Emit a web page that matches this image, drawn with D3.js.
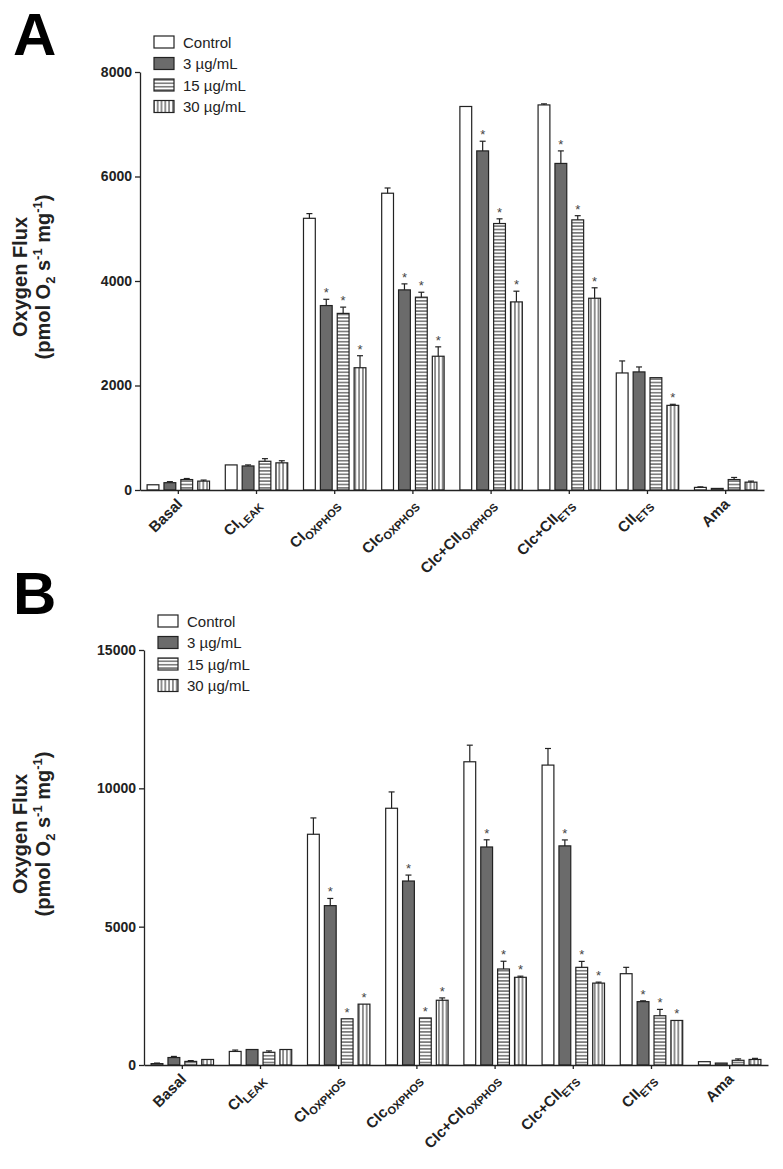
<!DOCTYPE html>
<html lang="en">
<head>
<meta charset="UTF-8">
<title>Oxygen Flux</title>
<style>
    body { margin: 0; background: #fff; }
    svg { display: block; font-family: "Liberation Sans", Arial, sans-serif; }
</style>
<script src="https://d3js.org/d3.v7.min.js"></script>
</head>
<body>
<svg id="chart" width="783" height="1169"></svg>
<script>
    // category labels: main text + subscript part
    const catMain = ["Basal", "CI", "CI", "CIc", "CIc+CII", "CIc+CII", "CII", "Ama"];
    const catSub = ["", "LEAK", "OXPHOS", "OXPHOS", "OXPHOS", "ETS", "ETS", ""];
    const series = ["Control", "3 \u00b5g/mL", "15 \u00b5g/mL", "30 \u00b5g/mL"];

    // Panel A - one row per series, one value per category
    const meansA = [
        [100, 480, 5200, 5680, 7340, 7370, 2240, 50],
        [140, 460, 3530, 3830, 6490, 6250, 2260, 30],
        [200, 550, 3380, 3690, 5100, 5170, 2150, 200],
        [170, 520, 2340, 2560, 3600, 3670, 1620, 150]
    ];
    const errsA = [
        [0, 0, 90, 100, 0, 20, 230, 10],
        [20, 20, 120, 115, 185, 240, 95, 0],
        [20, 50, 120, 95, 90, 80, 0, 40],
        [20, 40, 230, 180, 205, 200, 20, 20]
    ];
    // series index that carry a * for each category
    const starsA = [[], [], [1, 2, 3], [1, 2, 3], [1, 2, 3], [1, 2, 3], [3], []];
    const ticksA = [0, 2000, 4000, 6000, 8000];

    // Panel B
    const meansB = [
        [50, 490, 8340, 9280, 10960, 10840, 3300, 120],
        [270, 560, 5760, 6650, 7880, 7920, 2290, 70],
        [130, 460, 1670, 1700, 3470, 3530, 1780, 170],
        [200, 560, 2200, 2340, 3170, 2960, 1610, 200]
    ];
    const errsB = [
        [20, 50, 590, 590, 600, 600, 230, 0],
        [40, 0, 260, 215, 260, 215, 30, 0],
        [30, 50, 0, 0, 280, 215, 230, 50],
        [0, 0, 0, 85, 40, 35, 0, 40]
    ];
    const starsB = [[], [], [1, 2, 3], [1, 2, 3], [1, 2, 3], [1, 2, 3], [1, 2, 3], []];
    const ticksB = [0, 5000, 10000, 15000];

    const ink = "#222";
    const svg = d3.select("#chart");
    const defs = svg.append("defs");

    // hatch patterns
    const pH = defs.append("pattern").attr("id", "hatchH")
        .attr("patternUnits", "userSpaceOnUse").attr("width", 6).attr("height", 3.4);
    pH.append("rect").attr("width", 6).attr("height", 3.4).attr("fill", "#fff");
    pH.append("line").attr("x1", 0).attr("x2", 6).attr("y1", 1.7).attr("y2", 1.7)
        .attr("stroke", ink).attr("stroke-width", 1);

    const pV = defs.append("pattern").attr("id", "hatchV")
        .attr("patternUnits", "userSpaceOnUse").attr("width", 3.8).attr("height", 6);
    pV.append("rect").attr("width", 3.8).attr("height", 6).attr("fill", "#fff");
    pV.append("line").attr("x1", 1.9).attr("x2", 1.9).attr("y1", 0).attr("y2", 6)
        .attr("stroke", ink).attr("stroke-width", 1);

    const fills = ["#fff", "#6b6b6b", "url(#hatchH)", "url(#hatchV)"];

    function drawPanel(o) {
        const g = svg.append("g");

        const x0 = d3.scaleBand().domain(d3.range(catMain.length))
            .range([o.left, o.right]).paddingInner(0.18).paddingOuter(0.08);
        const x1 = d3.scaleBand().domain(d3.range(series.length))
            .range([0, x0.bandwidth()]).paddingInner(0.3).paddingOuter(0.05);
        const y = d3.scaleLinear().domain([0, o.max]).range([o.bottom, o.top]);

        // bars
        const rows = [];
        o.means.forEach((vals, s) => vals.forEach((v, c) => {
            rows.push({ s, c, v, e: o.errs[s][c], star: o.stars[c].includes(s) });
        }));

        g.append("g").selectAll("rect").data(rows).join("rect")
            .attr("x", d => x0(d.c) + x1(d.s))
            .attr("y", d => y(d.v))
            .attr("width", x1.bandwidth())
            .attr("height", d => o.bottom - y(d.v))
            .attr("fill", d => fills[d.s])
            .attr("stroke", ink)
            .attr("stroke-width", 1.2);

        // error bars (upper only)
        const eb = g.append("g").attr("stroke", ink).attr("stroke-width", 1.2);
        rows.filter(d => d.e > 0).forEach(d => {
            const cx = x0(d.c) + x1(d.s) + x1.bandwidth() / 2;
            eb.append("line").attr("x1", cx).attr("x2", cx)
                .attr("y1", y(d.v)).attr("y2", y(d.v + d.e));
            eb.append("line").attr("x1", cx - 3).attr("x2", cx + 3)
                .attr("y1", y(d.v + d.e)).attr("y2", y(d.v + d.e));
        });

        // significance marks
        g.append("g").selectAll("text").data(rows.filter(d => d.star)).join("text")
            .attr("x", d => x0(d.c) + x1(d.s) + x1.bandwidth() / 2)
            .attr("y", d => y(d.v + d.e) - 2)
            .attr("text-anchor", "middle")
            .attr("font-size", 13)
            .attr("fill", "#444")
            .text("*");

        // axes
        const ya = g.append("g").attr("transform", `translate(${o.left},0)`)
            .call(d3.axisLeft(y).tickValues(o.ticks).tickSize(5).tickSizeOuter(0)
                .tickPadding(3).tickFormat(d3.format("d")));
        ya.selectAll("path, line").attr("stroke", ink).attr("stroke-width", 1.3);
        ya.selectAll("text").attr("font-size", 14).attr("font-weight", "bold")
            .attr("font-family", "'Liberation Sans', Arial, sans-serif").attr("fill", ink);

        const xa = g.append("g").attr("transform", `translate(0,${o.bottom})`)
            .call(d3.axisBottom(x0).tickSize(4).tickSizeOuter(0).tickFormat(""));
        xa.selectAll("path, line").attr("stroke", ink).attr("stroke-width", 1.3);

        // rotated category labels, anchored at their right end under each tick
        catMain.forEach((m, c) => {
            const t = g.append("text")
                .attr("transform", `translate(${x0(c) + x0.bandwidth() / 2 + 5},${o.bottom + 15}) rotate(-45)`)
                .attr("text-anchor", "end")
                .attr("font-weight", "bold")
                .attr("font-size", 15)
                .attr("fill", ink);
            t.append("tspan").text(m);
            if (catSub[c]) t.append("tspan").attr("font-size", 11).attr("dy", 4).text(catSub[c]);
        });

        // y title
        g.append("text")
            .attr("transform", `translate(27,${o.titleY}) rotate(-90)`)
            .attr("text-anchor", "middle").attr("font-weight", "bold").attr("font-size", 20)
            .attr("fill", ink).text("Oxygen Flux");
        const t2 = g.append("text")
            .attr("transform", `translate(50,${o.titleY}) rotate(-90)`)
            .attr("text-anchor", "middle").attr("font-weight", "bold").attr("font-size", 20)
            .attr("fill", ink);
        t2.append("tspan").text("(pmol O");
        t2.append("tspan").attr("font-size", 13).attr("dy", 5).text("2");
        t2.append("tspan").attr("dy", -5).text(" s");
        t2.append("tspan").attr("font-size", 13).attr("dy", -8).text("-1");
        t2.append("tspan").attr("dy", 8).text(" mg");
        t2.append("tspan").attr("font-size", 13).attr("dy", -8).text("-1");
        t2.append("tspan").attr("dy", 8).text(")");

        // panel letter
        g.append("text").attr("x", 13).attr("y", o.letterY)
            .attr("font-weight", "bold").attr("font-size", 60).attr("fill", "#000")
            .text(o.letter);

        // legend
        const lg = g.append("g");
        series.forEach((s, i) => {
            const ry = o.legendY + i * 21.5;
            lg.append("rect").attr("x", o.legendX).attr("y", ry - 6)
                .attr("width", 20).attr("height", 12)
                .attr("fill", fills[i]).attr("stroke", ink).attr("stroke-width", 1.2);
            lg.append("text").attr("x", o.legendX + 29).attr("y", ry)
                .attr("dominant-baseline", "central")
                .attr("font-size", 15).attr("fill", ink).text(s);
        });
    }

    drawPanel({
        letter: "A", letterY: 55, left: 140, right: 764, top: 72, bottom: 490,
        max: 8000, ticks: ticksA, means: meansA, errs: errsA, stars: starsA,
        legendX: 154, legendY: 42, titleY: 277
    });

    drawPanel({
        letter: "B", letterY: 614, left: 144, right: 768, top: 650, bottom: 1065,
        max: 15000, ticks: ticksB, means: meansB, errs: errsB, stars: starsB,
        legendX: 158, legendY: 621, titleY: 834
    });
</script>
</body>
</html>
